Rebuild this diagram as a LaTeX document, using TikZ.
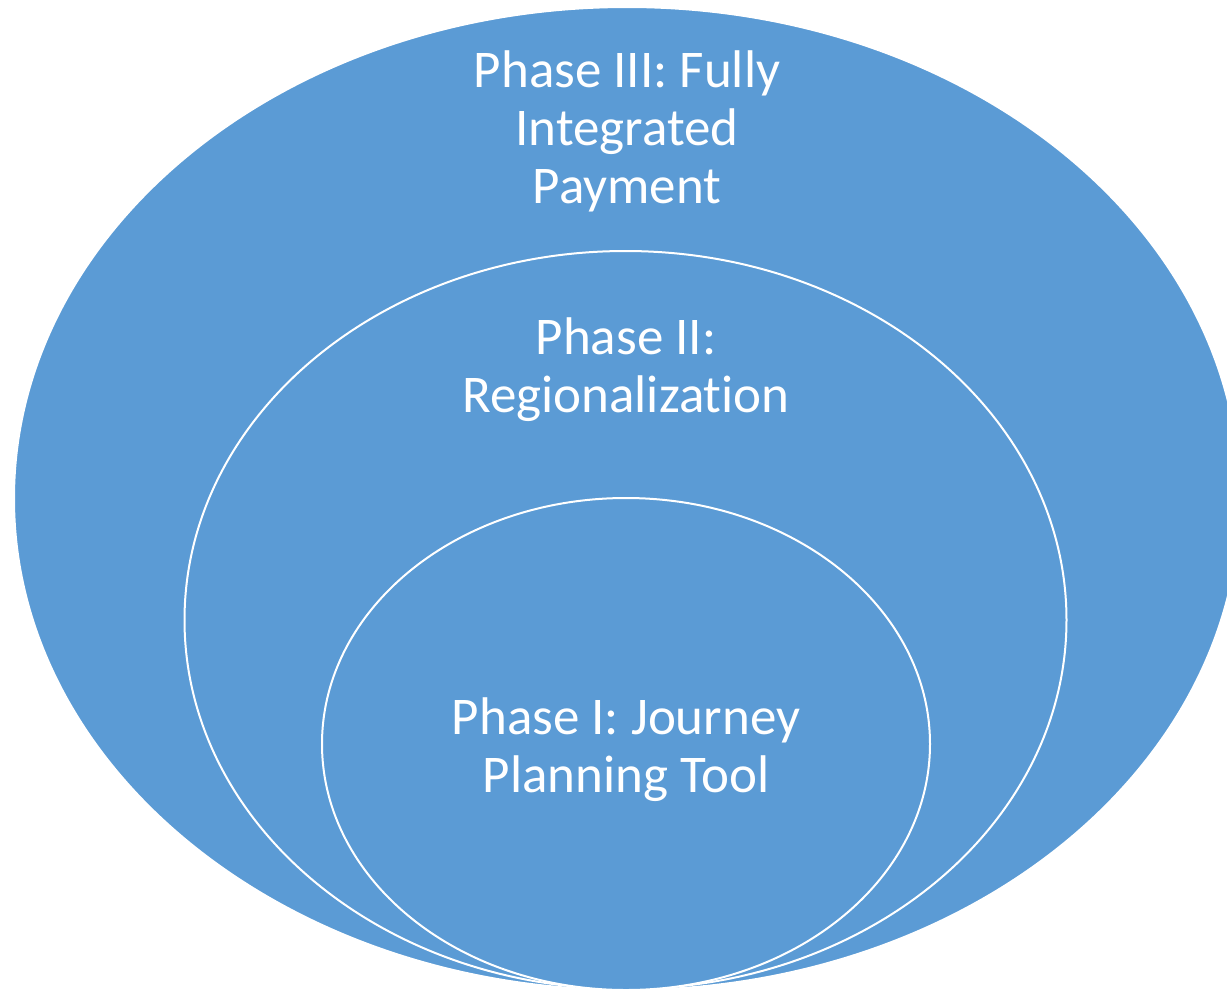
\documentclass[tikz,border=0pt]{standalone}
\usepackage{fontspec}
\setmainfont{Carlito}[Ligatures={NoCommon}]
\definecolor{phaseblue}{HTML}{5B9BD5}
\begin{document}
\begin{tikzpicture}[x=1pt,y=-1pt,
  ring/.style={fill=phaseblue,draw=white,line width=2pt},
  lbl/.style={text=white,align=center,font=\fontsize{53}{58}\selectfont,inner sep=0pt}]
\useasboundingbox (0,0) rectangle (1227,989);
\begin{scope}
\clip (0,0) rectangle (1227,989);
\draw[ring] (627,498.5) ellipse [x radius=613, y radius=491.5];
\draw[ring] (625.5,620) ellipse [x radius=441, y radius=369];
\draw[ring] (626,744) ellipse [x radius=304, y radius=246];
\end{scope}
\node[lbl] (p3) at (627,131) {Phase III: Fully\\Integrated\\Payment};
\node[lbl] (p2) at (626,370) {Phase II:\\Regionalization};
\node[lbl] (p1) at (626,750) {Phase I: Journey\\Planning Tool};
\end{tikzpicture}
\end{document}
